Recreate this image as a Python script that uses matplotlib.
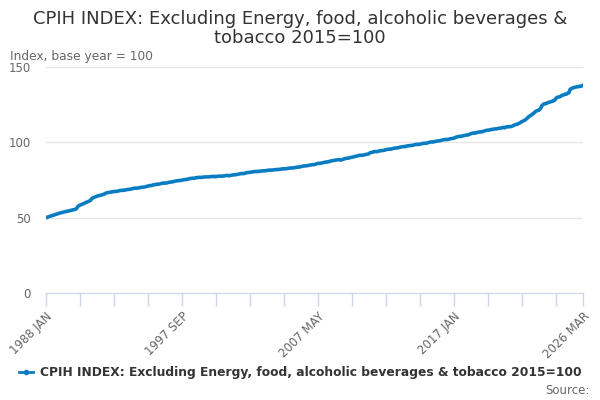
import numpy as np
import pandas as pd
import matplotlib
matplotlib.use('Agg')
import matplotlib.pyplot as plt
from matplotlib.lines import Line2D

# monthly index values, one row per year (Jan..Dec)
v1988 = [50.0, 50.3, 50.5, 50.8, 51.1, 51.3, 51.6, 51.8, 52.1, 52.4, 52.6, 52.9]
v1989 = [53.1, 53.3, 53.5, 53.7, 53.9, 54.1, 54.2, 54.4, 54.6, 54.8, 55.0, 55.2]
v1990 = [55.3, 55.6, 55.9, 57.3, 57.9, 58.3, 58.6, 59.0, 59.3, 59.7, 60.1, 60.4]
v1991 = [60.7, 61.1, 61.5, 62.6, 63.1, 63.5, 63.8, 64.1, 64.4, 64.6, 64.8, 65.0]
v1992 = [65.2, 65.5, 65.8, 66.3, 66.5, 66.7, 66.8, 66.9, 67.1, 67.2, 67.3, 67.4]
v1993 = [67.4, 67.6, 67.8, 68.0, 68.1, 68.2, 68.1, 68.3, 68.5, 68.6, 68.7, 68.8]
v1994 = [68.9, 69.1, 69.3, 69.5, 69.6, 69.6, 69.6, 69.8, 69.9, 70.1, 70.2, 70.3]
v1995 = [70.3, 70.6, 70.8, 71.0, 71.2, 71.3, 71.3, 71.6, 71.8, 72.0, 72.1, 72.2]
v1996 = [72.2, 72.4, 72.6, 72.8, 72.9, 73.0, 72.9, 73.1, 73.3, 73.5, 73.6, 73.7]
v1997 = [73.8, 74.0, 74.2, 74.4, 74.5, 74.6, 74.6, 74.8, 74.9, 75.1, 75.2, 75.3]
v1998 = [75.4, 75.6, 75.8, 76.0, 76.1, 76.2, 76.1, 76.3, 76.5, 76.6, 76.7, 76.8]
v1999 = [76.7, 76.8, 76.9, 77.0, 77.0, 77.1, 77.0, 77.1, 77.2, 77.3, 77.3, 77.4]
v2000 = [77.2, 77.3, 77.4, 77.5, 77.6, 77.6, 77.5, 77.6, 77.8, 77.9, 78.0, 78.0]
v2001 = [77.8, 78.0, 78.1, 78.3, 78.4, 78.5, 78.5, 78.7, 78.9, 79.0, 79.2, 79.3]
v2002 = [79.2, 79.4, 79.6, 79.8, 79.9, 80.0, 80.1, 80.2, 80.4, 80.5, 80.6, 80.7]
v2003 = [80.6, 80.7, 80.8, 80.9, 81.0, 81.1, 81.0, 81.2, 81.3, 81.4, 81.5, 81.6]
v2004 = [81.5, 81.6, 81.7, 81.8, 81.9, 82.0, 81.9, 82.1, 82.2, 82.3, 82.4, 82.5]
v2005 = [82.4, 82.5, 82.7, 82.8, 82.9, 83.0, 82.9, 83.1, 83.2, 83.3, 83.5, 83.6]
v2006 = [83.6, 83.8, 84.0, 84.2, 84.3, 84.4, 84.4, 84.6, 84.7, 84.9, 85.0, 85.2]
v2007 = [85.1, 85.3, 85.5, 85.8, 86.0, 86.1, 86.0, 86.3, 86.4, 86.6, 86.8, 87.0]
v2008 = [86.9, 87.2, 87.4, 87.6, 87.8, 88.0, 88.0, 88.2, 88.3, 88.4, 88.5, 88.3]
v2009 = [88.3, 88.7, 88.9, 89.2, 89.4, 89.5, 89.5, 89.8, 90.0, 90.1, 90.3, 90.5]
v2010 = [90.7, 90.9, 91.1, 91.3, 91.4, 91.5, 91.4, 91.6, 91.8, 92.0, 92.1, 92.3]
v2011 = [92.9, 93.2, 93.4, 93.6, 93.8, 93.9, 93.8, 94.0, 94.2, 94.4, 94.5, 94.6]
v2012 = [94.6, 94.9, 95.1, 95.3, 95.4, 95.5, 95.4, 95.7, 95.9, 96.1, 96.2, 96.3]
v2013 = [96.3, 96.6, 96.8, 97.0, 97.1, 97.2, 97.1, 97.4, 97.6, 97.7, 97.8, 97.9]
v2014 = [97.9, 98.1, 98.3, 98.5, 98.6, 98.7, 98.6, 98.8, 99.0, 99.2, 99.3, 99.4]
v2015 = [99.3, 99.6, 99.8, 100.0, 100.2, 100.3, 100.2, 100.4, 100.6, 100.8, 100.9, 101.0]
v2016 = [101.1, 101.3, 101.5, 101.7, 101.8, 101.9, 101.8, 102.0, 102.2, 102.4, 102.5, 102.6]
v2017 = [102.8, 103.2, 103.5, 103.7, 103.9, 104.0, 103.9, 104.2, 104.4, 104.6, 104.7, 104.9]
v2018 = [104.9, 105.3, 105.6, 105.9, 106.1, 106.2, 106.1, 106.4, 106.6, 106.8, 106.9, 107.0]
v2019 = [107.0, 107.3, 107.6, 107.8, 108.0, 108.1, 108.1, 108.4, 108.5, 108.7, 108.8, 108.9]
v2020 = [108.9, 109.1, 109.3, 109.4, 109.5, 109.7, 109.9, 109.6, 110.1, 110.3, 110.3, 110.4]
v2021 = [110.4, 110.6, 110.9, 111.3, 111.6, 111.9, 112.0, 112.5, 112.8, 113.4, 113.8, 114.2]
v2022 = [114.5, 115.1, 115.7, 116.6, 117.1, 117.7, 118.2, 118.8, 119.4, 120.1, 120.7, 121.1]
v2023 = [121.2, 121.8, 122.8, 124.4, 125.1, 125.6, 125.6, 126.0, 126.3, 126.6, 126.8, 127.1]
v2024 = [127.2, 127.7, 128.0, 129.4, 129.8, 130.1, 130.2, 130.6, 131.1, 131.4, 131.7, 132.0]
v2025 = [132.0, 132.6, 133.0, 135.2, 135.7, 136.0, 136.3, 136.5, 136.7, 136.9, 137.0, 137.2]
v2026 = [137.1, 137.5, 138.0]

values = (v1988 + v1989 + v1990 + v1991 + v1992 + v1993 + v1994 + v1995 + v1996 + v1997
          + v1998 + v1999 + v2000 + v2001 + v2002 + v2003 + v2004 + v2005 + v2006 + v2007
          + v2008 + v2009 + v2010 + v2011 + v2012 + v2013 + v2014 + v2015 + v2016 + v2017
          + v2018 + v2019 + v2020 + v2021 + v2022 + v2023 + v2024 + v2025 + v2026)

months = pd.period_range('1988-01', '2026-03', freq='M')
month_labels = [f"{p.year} {p.strftime('%b').upper()}" for p in months]

SERIES = 'CPIH INDEX: Excluding Energy, food, alcoholic beverages & tobacco 2015=100'
TITLE = 'CPIH INDEX: Excluding Energy, food, alcoholic beverages &\ntobacco 2015=100'
BLUE = '#0a7cc2'
AXIS = '#ccd6eb'

plt.rcParams['font.family'] = 'DejaVu Sans'

fig = plt.figure(figsize=(6, 4), dpi=100)
ax = fig.add_axes([0.0767, 0.2675, 0.895, 0.565])

x = np.arange(len(values))
ax.plot(x, values, color=BLUE, linewidth=2.6, solid_capstyle='round')

ax.set_xlim(0, len(values) - 1)
ax.set_ylim(0, 150)
ax.set_yticks([0, 50, 100, 150])
ax.grid(axis='y', color='#e6e6e6', linewidth=1)
ax.set_axisbelow(True)

last = len(values) - 1
tick_pos = list(range(0, last - 20, 29)) + [last]
ax.set_xticks(tick_pos)
ax.set_xticklabels([month_labels[t] if (t % 116 == 0 or t == last) else ''
                    for t in tick_pos], rotation=45, ha='right', rotation_mode='anchor')

for s in ['top', 'right', 'left']:
    ax.spines[s].set_visible(False)
ax.spines['bottom'].set_color(AXIS)
ax.tick_params(axis='x', colors=AXIS, length=9, width=1, labelcolor='#666666',
               labelsize=8.5, pad=3)
ax.tick_params(axis='y', length=0, labelcolor='#666666', labelsize=8.5, pad=11)

fig.text(0.5, 0.975, TITLE, ha='center', va='top', fontsize=13, color='#333333',
         linespacing=1.1)
fig.text(0.017, 0.858, 'Index, base year = 100', ha='left', va='center',
         fontsize=8.8, color='#666666')

handle = Line2D([], [], color=BLUE, linewidth=2, marker='o', markersize=3)
fig.legend([handle], [SERIES], loc='center', bbox_to_anchor=(0.5, 0.068),
           frameon=False, handlelength=1.2, handletextpad=0.5,
           prop={'size': 8.8, 'weight': 'bold'}, labelcolor='#333333')
fig.text(0.982, 0.025, 'Source:', ha='right', va='center', fontsize=8.5, color='#666666')

fig.savefig('out.png', dpi=100)
